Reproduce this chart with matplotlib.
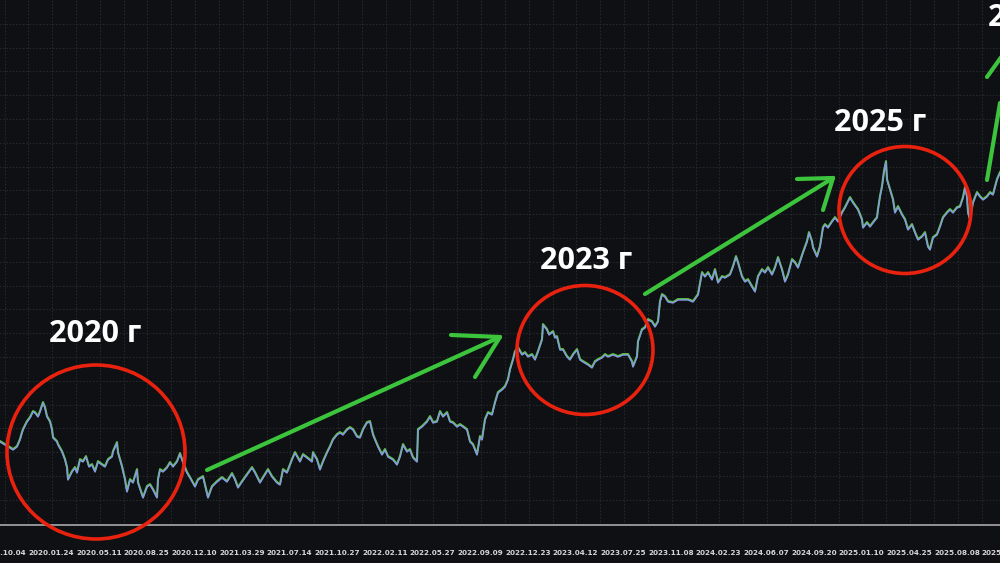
import matplotlib.pyplot as plt
from matplotlib.patches import Ellipse
import matplotlib.transforms as mtransforms

# price series (bar position, close level)
bar = [0, 5, 10, 13, 17, 20, 22, 23, 27, 30, 33, 35, 38, 40, 43, 45, 47, 50, 52, 53,
       57, 58, 62, 65, 67, 68, 72, 75, 77, 80, 83, 86, 89, 92, 95, 98, 102, 105, 108, 112,
       113, 117, 118, 122, 125, 127, 130, 133, 137, 138, 142, 143, 147, 150, 153, 157, 158, 160, 163, 167,
       170, 173, 177, 180,
       183, 187, 190, 195, 198, 203, 208, 212, 217, 222, 227, 232, 235, 238, 242, 247, 252, 255, 260, 263,
       268, 272, 277, 280, 283, 287, 292, 295, 300, 303, 307, 312, 313, 317, 320, 323, 327, 330, 333, 337,
       340, 343, 347, 350, 353, 357, 360, 363, 367, 370, 373, 375, 378, 382, 385, 388, 393, 397, 400, 403,
       407, 410, 413, 417, 418, 422, 427, 430, 433, 437, 440, 443, 447, 450, 453, 457, 460, 463, 467, 470,
       473, 477, 480, 482, 485, 488, 492, 495, 498,
       502, 505, 508, 510, 513, 515, 518, 522, 525, 528, 532, 535, 538, 542, 543, 547, 549, 553, 555, 557,
       560, 563, 567, 570, 573, 577, 580, 583, 588, 592, 595, 598, 602, 605, 608, 613, 618, 623, 628, 632,
       633, 637, 638, 642, 645, 648, 652, 655, 658, 660, 662, 665, 668, 673, 678, 683, 688, 693, 698,
       702, 705, 708, 712, 715, 718, 722, 725, 730, 733, 736, 738, 742, 745, 748, 752, 755, 758, 762, 765,
       768, 772, 775, 778, 782, 785, 788, 792, 795, 798, 803, 807, 809, 812, 813, 817, 820, 823, 825, 828,
       832, 835, 838,
       842, 845, 848, 850, 853, 858, 862, 863, 867, 870, 873, 877, 878, 880, 882, 884, 886, 887, 890, 893,
       895, 898, 902, 905, 908, 912, 915, 918, 922, 925, 928, 930, 933, 937, 940, 943, 947, 950, 953, 957,
       960, 963, 965, 967, 968, 970, 973, 977, 980, 983, 987, 990, 993, 997, 1000]
close = [83, 80, 77, 75, 78, 85, 92, 95, 103, 107, 113, 112, 108, 113, 122, 117, 108, 103, 95, 87,
         83, 80, 73, 65, 57, 45, 53, 57, 52, 65, 63, 68, 58, 60, 53, 63, 60, 58, 65, 68,
         73, 82, 72, 58, 45, 33, 45, 42, 55, 42, 30, 27, 38, 40, 35, 27, 45, 55, 53, 57,
         62, 58, 63, 71,
         62, 52, 47, 38, 45, 48, 27, 38, 43, 47, 43, 51, 45, 37, 43, 50, 57, 52, 42, 47,
         55, 48, 42, 40, 55, 52, 65, 72, 63, 70, 67, 63, 72, 65, 55, 63, 72, 78, 85, 90,
         92, 90, 95, 97, 95, 88, 87, 95, 102, 103, 90, 85, 78, 70, 75, 68, 65, 60, 68, 80,
         73, 75, 67, 63, 95, 98, 103, 108, 102, 103, 113, 108, 112, 103, 102, 98, 100, 98, 95, 83,
         80, 70, 88, 85, 105, 112, 110, 122, 132,
         135, 138, 145, 155, 165, 173, 177, 170, 172, 168, 170, 165, 173, 185, 200, 195, 190, 193, 187, 188,
         175, 175, 168, 165, 170, 175, 165, 163, 160, 157, 163, 165, 167, 170, 168, 170, 168, 170, 170, 163,
         158, 168, 183, 195, 197, 205, 203, 198, 203, 223, 230, 228, 223, 222, 225, 225, 225, 223, 230,
         252, 248, 252, 245, 255, 242, 248, 247, 250, 258, 268, 262, 248, 243, 245, 238, 233, 248, 255, 252,
         257, 250, 257, 267, 255, 243, 250, 265, 262, 257, 272, 283, 292, 283, 277, 268, 278, 297, 300, 297,
         303, 307, 303,
         312, 317, 323, 327, 322, 315, 305, 297, 302, 298, 302, 307, 315, 328, 338, 353, 363, 345, 335, 325,
         312, 318, 310, 305, 295, 300, 292, 285, 288, 292, 278, 275, 287, 290, 298, 307, 312, 315, 312, 317,
         318, 327, 337, 328, 312, 305, 322, 332, 328, 325, 328, 332, 330, 345, 352]

tick_dates = ['2019.10.04', '2020.01.24', '2020.05.11', '2020.08.25', '2020.12.10',
              '2021.03.29', '2021.07.14', '2021.10.27', '2022.02.11', '2022.05.27',
              '2022.09.09', '2022.12.23', '2023.04.12', '2023.07.25', '2023.11.08',
              '2024.02.23', '2024.06.07', '2024.09.20', '2025.01.10', '2025.04.25',
              '2025.08.08', '2025.11.21']

labels = ['2020 г', '2023 г', '2025 г', '2026 г']

BG = '#0f1014'
GRID = '#25272c'

fig = plt.figure(figsize=(10, 5.63), dpi=100, facecolor=BG)
ax = fig.add_axes([-0.02, 38 / 563, 1.02, 525 / 563])
ax.set_facecolor(BG)
ax.set_xlim(-20, 1000)
ax.set_ylim(0, 525)

# dotted grid
gx = 4.5
while gx < 1000:
    ax.axvline(gx, color=GRID, lw=0.8, ls=(0, (1.5, 1.5)), zorder=0)
    gx += 23.83
gy = 525 - 23.8
while gy > 0:
    ax.axhline(gy, color=GRID, lw=0.8, ls=(0, (1.5, 1.5)), zorder=0)
    gy -= 23.8

for s in ['top', 'right', 'left']:
    ax.spines[s].set_visible(False)
ax.spines['bottom'].set_color('#a8a8a8')
ax.spines['bottom'].set_linewidth(1.2)

ticks = [28.3 + 47.67 * (k - 1) for k in range(len(tick_dates))]
ax.set_xticks(ticks)
ax.set_xticklabels(tick_dates, ha='left')
ax.tick_params(axis='x', length=0, pad=18, labelsize=5.2, labelcolor='#d6d6d6')
ax.set_yticks([])
for t in ax.get_xticklabels():
    t.set_fontweight('bold')

# price line: green fringe under a blue line
shift = mtransforms.offset_copy(ax.transData, fig=fig, x=0, y=0.9, units='dots')
ax.plot(bar, close, color='#5cc43e', lw=1.5, transform=shift, zorder=2)
ax.plot(bar, close, color='#8797ec', lw=1.0, zorder=3)

# annotation layer in pixel coordinates
ov = fig.add_axes([0, 0, 1, 1])
ov.set_xlim(0, 1000)
ov.set_ylim(563, 0)
ov.axis('off')
ov.patch.set_alpha(0)

red = '#e8220f'
for cx, cy, w, h in [(96, 452, 178, 174), (585, 350, 136, 129), (905, 210, 132, 127)]:
    ov.add_patch(Ellipse((cx, cy), w, h, fill=False, ec=red, lw=2.6))

green = '#3cc43c'
arrows = [
    [(207, 470), (500, 337)], [(451, 335), (500, 337)], [(475, 377), (500, 337)],
    [(645, 294), (833, 178)], [(797, 179), (833, 178)], [(823, 210), (833, 178)],
    [(987, 180), (1000, 103)], [(987, 77), (1002, 56)],
]
for (x0, y0), (x1, y1) in arrows:
    ov.plot([x0, x1], [y0, y1], color=green, lw=3.0, solid_capstyle='round')

txt = dict(color='white', fontsize=22, fontweight='bold', family=['Open Sans', 'DejaVu Sans'])
ov.text(95, 342, labels[0], ha='center', va='baseline', **txt)
ov.text(586, 269, labels[1], ha='center', va='baseline', **txt)
ov.text(880, 131, labels[2], ha='center', va='baseline', **txt)
ov.text(988, 26, labels[3], ha='left', va='baseline', **txt)

fig.savefig('out.png', dpi=100, facecolor=BG)
